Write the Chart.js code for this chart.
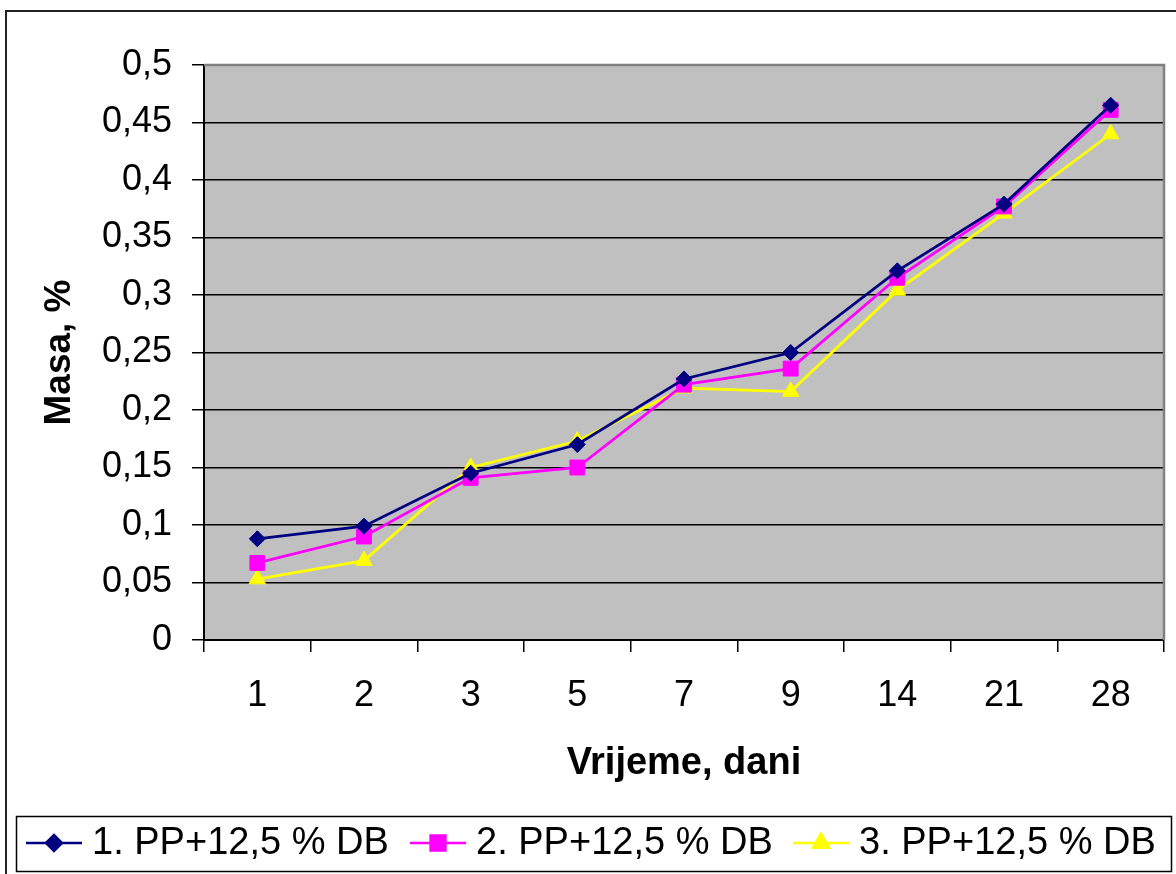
<!DOCTYPE html>
<html>
<head>
<meta charset="utf-8">
<title>Masa, %</title>
<script src="https://cdn.jsdelivr.net/npm/chart.js@4"></script>
<style>
    body { margin: 0; background: #fff; }
    canvas { display: block; }
</style>
</head>
<body>
<canvas id="massChart" width="1176" height="874"></canvas>
<script>
(() => {
    // data
    const days = ['1', '2', '3', '5', '7', '9', '14', '21', '28'];
    const sample1 = [0.088, 0.099, 0.145, 0.170, 0.227, 0.250, 0.321, 0.379, 0.465];
    const sample2 = [0.067, 0.090, 0.141, 0.150, 0.222, 0.236, 0.315, 0.377, 0.461];
    const sample3 = [0.053, 0.069, 0.150, 0.173, 0.219, 0.216, 0.304, 0.371, 0.440];
    const seriesNames = ['1. PP+12,5 % DB', '2. PP+12,5 % DB', '3. PP+12,5 % DB'];
    const yTickLabels = ['0', '0,05', '0,1', '0,15', '0,2', '0,25', '0,3', '0,35', '0,4', '0,45', '0,5'];

    const FONT = "'Liberation Sans', Arial, sans-serif";

    // grey plot background + grey top/right frame
    const plotArea = {
        id: 'plotArea',
        beforeDraw: (chart) => {
            const { ctx, chartArea: a } = chart;
            ctx.save();
            ctx.fillStyle = '#c0c0c0';
            ctx.fillRect(a.left, a.top, a.right - a.left, a.bottom - a.top);
            ctx.restore();
        },
        beforeDatasetsDraw: (chart) => {
            const { ctx, chartArea: a } = chart;
            ctx.save();
            ctx.strokeStyle = '#808080';
            ctx.lineWidth = 2.5;
            ctx.beginPath();
            ctx.moveTo(a.left, a.top);
            ctx.lineTo(a.right, a.top);
            ctx.lineTo(a.right, a.bottom);
            ctx.stroke();
            ctx.restore();
        }
    };

    // outer frame and the boxed legend at the bottom
    const frameLegend = {
        id: 'frameLegend',
        afterDraw: (chart) => {
            const ctx = chart.ctx;
            ctx.save();
            ctx.strokeStyle = '#222';
            ctx.lineWidth = 2;
            ctx.beginPath();
            ctx.moveTo(1176, 11);
            ctx.lineTo(6, 11);
            ctx.lineTo(6, 874);
            ctx.stroke();

            ctx.strokeStyle = '#000';
            ctx.lineWidth = 1.5;
            ctx.strokeRect(16.5, 816.5, 1155, 55);

            const itemX = [26, 410, 793];
            const cy = 843;
            ctx.font = '38px ' + FONT;
            ctx.textBaseline = 'middle';
            ctx.textAlign = 'left';
            chart.data.datasets.forEach((ds, i) => {
                const x = itemX[i];
                ctx.strokeStyle = ds.borderColor;
                ctx.lineWidth = 2.5;
                ctx.beginPath();
                ctx.moveTo(x, cy);
                ctx.lineTo(x + 56, cy);
                ctx.stroke();
                Chart.helpers.drawPoint(ctx, {
                    pointStyle: ds.pointStyle,
                    radius: ds.pointRadius,
                    rotation: 0,
                    borderWidth: 1
                }, x + 28, cy);
                ctx.fillStyle = ds.borderColor;
                ctx.fill();
                ctx.fillStyle = '#000';
                ctx.fillText(ds.label, x + 66, cy + 1);
            });
            ctx.restore();
        }
    };

    const makeSet = (label, data, color, style, radius) => ({
        label: label,
        data: data,
        borderColor: color,
        backgroundColor: color,
        borderWidth: 2.8,
        pointStyle: style,
        pointRadius: radius,
        pointHoverRadius: radius,
        pointBorderWidth: 1,
        fill: false,
        tension: 0
    });

    const ctx = document.getElementById('massChart').getContext('2d');
    new Chart(ctx, {
        type: 'line',
        data: {
            labels: days,
            datasets: [
                makeSet(seriesNames[0], sample1, '#000080', 'rectRot', 8),
                makeSet(seriesNames[1], sample2, '#ff00ff', 'rect', 10.5),
                makeSet(seriesNames[2], sample3, '#ffff00', 'triangle', 9.5)
            ]
        },
        options: {
            responsive: false,
            animation: false,
            layout: { padding: { top: 65, right: 12, bottom: 74, left: 0 } },
            plugins: {
                legend: { display: false },
                tooltip: { enabled: false }
            },
            scales: {
                x: {
                    offset: true,
                    afterFit: (scale) => { scale.height = 160; },
                    grid: {
                        offset: true,
                        drawOnChartArea: false,
                        drawTicks: true,
                        tickLength: 12,
                        tickColor: '#000',
                        lineWidth: 1.5
                    },
                    border: { display: true, color: '#000', width: 2 },
                    ticks: {
                        color: '#000',
                        padding: 22,
                        maxRotation: 0,
                        font: { family: FONT, size: 36 }
                    },
                    title: {
                        display: true,
                        text: 'Vrijeme, dani',
                        color: '#000',
                        padding: { top: 0, bottom: 14 },
                        font: { family: FONT, size: 38, weight: 'bold' }
                    }
                },
                y: {
                    min: 0,
                    max: 0.5,
                    afterFit: (scale) => { scale.width = 204; },
                    grid: {
                        color: '#000',
                        lineWidth: 1.5,
                        tickLength: 12,
                        tickColor: '#000'
                    },
                    border: { display: true, color: '#000', width: 2 },
                    ticks: {
                        stepSize: 0.05,
                        color: '#000',
                        padding: 20,
                        font: { family: FONT, size: 36 },
                        callback: (value, index) => yTickLabels[index]
                    },
                    title: {
                        display: true,
                        text: 'Masa, %',
                        color: '#000',
                        padding: { top: 38, bottom: 0 },
                        font: { family: FONT, size: 37, weight: 'bold' }
                    }
                }
            }
        },
        plugins: [plotArea, frameLegend]
    });
})();
</script>
</body>
</html>
